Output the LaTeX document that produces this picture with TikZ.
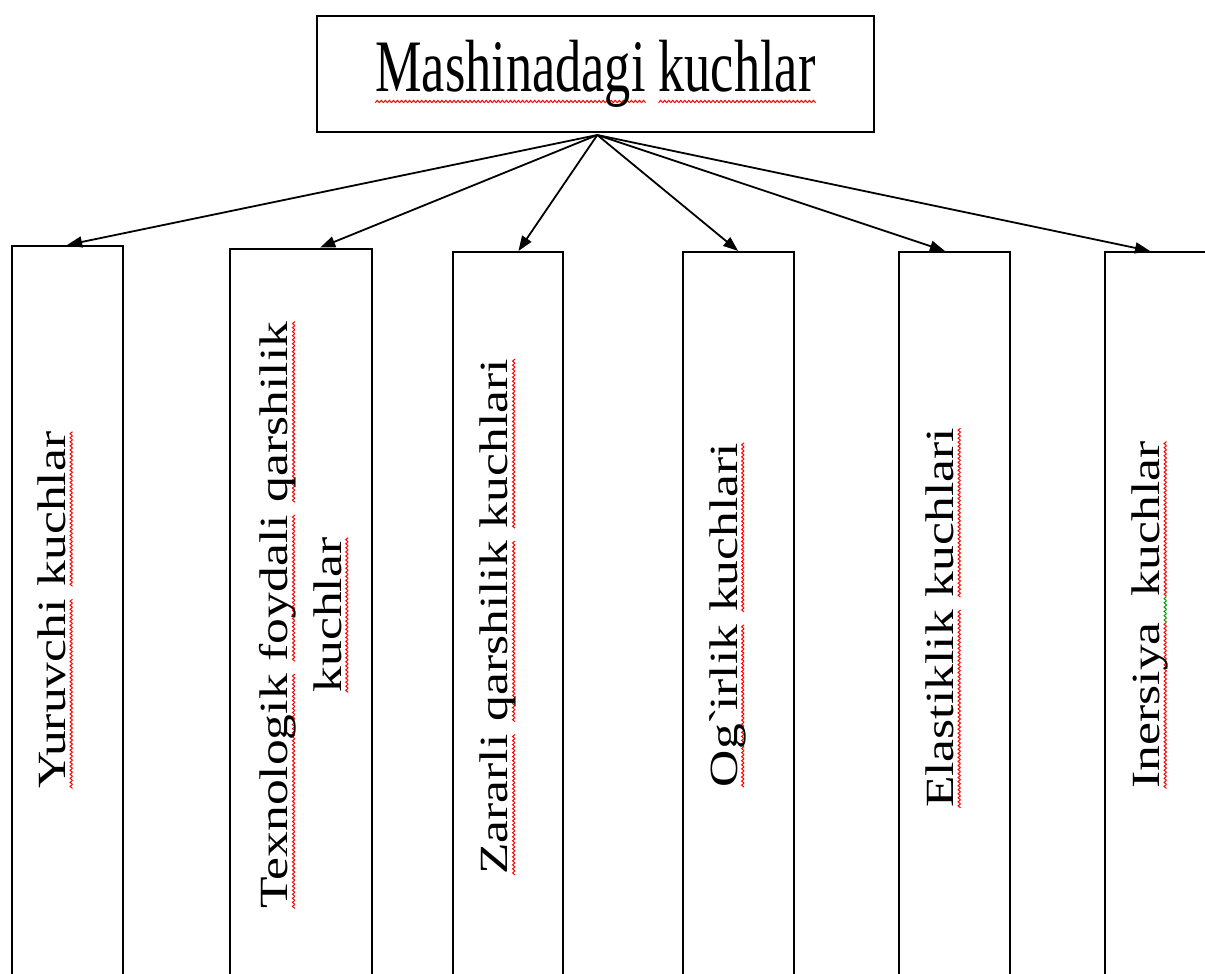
\documentclass[tikz,border=0pt]{standalone}
\usepackage{fontspec}
\usetikzlibrary{arrows.meta}
\setmainfont{Liberation Serif}
\newfontfamily\titlefont[FakeStretch=0.707]{Liberation Serif}
\newfontfamily\labelfont[FakeStretch=1.29]{Liberation Serif}
% spelling squiggles as in the scanned sheet
\newcommand\wave[1]{\tikz[baseline=0pt]{\useasboundingbox (0pt,0pt) rectangle (4pt,2.4pt);
  \draw[#1, line width=1pt] (0pt,0pt) -- (2pt,2.4pt) -- (4pt,0pt);}}
\newcommand\sq[2][7pt]{\setbox0\hbox{#2}\rlap{\lower#1\hbox to\wd0{\xleaders\hbox{\wave{red}}\hfil}}\box0}
\newcommand\gsq[2][7pt]{\setbox0\hbox{#2}\rlap{\lower#1\hbox to\wd0{\xleaders\hbox{\wave{green!60!black}}\hfil}}\box0}
\newcommand\gravemark{{\XeTeXglyph\XeTeXcharglyph"60\relax}}
\tikzset{
  head/.style={draw, line width=2pt, inner sep=0pt, minimum width=557.3pt,
    minimum height=116.6pt, font=\titlefont\fontsize{74}{80}\selectfont},
  col/.style={draw, line width=2pt, inner sep=0pt},
  lab/.style={rotate=90, anchor=north, inner sep=0pt, align=center,
    font=\labelfont\fontsize{40}{53.3}\selectfont}
}
\begin{document}
\begin{tikzpicture}[x=1pt, y=-1pt]
      \useasboundingbox (0,0) rectangle (1205,974);
      \draw
        (595.4,74) node[head] (kuch){\sq[11pt]{Mashinadagi}\ \sq[11pt]{kuchlar}}
        (67.1,615.5) node[col, minimum width=110.8pt, minimum height=739pt] (yur){}
        (301.2,616.8) node[col, minimum width=142.3pt, minimum height=736.5pt] (tex){}
        (507.9,618.5) node[col, minimum width=110.8pt, minimum height=733pt] (zar){}
        (738.2,618.5) node[col, minimum width=111.1pt, minimum height=733pt] (ogi){}
        (954.4,618.5) node[col, minimum width=110.8pt, minimum height=733pt] (ela){}
        (1160.5,618.5) node[col, minimum width=111pt, minimum height=733pt] (ine){};
      \node[lab] (yurt) at (37.5,610) {\sq{Yuruvchi}\ \sq{kuchlar}};
      \node[lab] (text) at (259.5,615) {\sq{Texnologik}\ \sq{foydali}\ \sq{qarshilik}\\ \sq{kuchlar}};
      \node[lab] (zart) at (480,617) {\sq{Zararli}\ \sq{qarshilik}\ \sq{kuchlari}};
      \node[lab] (ogit) at (709,615) {\sq{Og\gravemark irlik}\ \sq{kuchlari}};
      \node[lab] (elat) at (925.5,618) {\sq{Elastiklik}\ \sq{kuchlari}};
      \node[lab] (inet) at (1131.5,615) {\sq{Inersiya}\gsq{\hbox to 26pt{\hfil}}\sq{kuchlar}};
      \coordinate (src) at (597.3,135);
      \begin{scope}[-{Triangle[length=15pt,width=11pt]}, line width=1.8pt]
        \draw (src) to (yur.north);
        \draw (src) to ([xshift=19pt]tex.north);
        \draw (src) to ([xshift=10.5pt]zar.north);
        \draw (src) to (ogi.north);
        \draw (src) to ([xshift=-9.5pt]ela.north);
        \draw (src) to ([xshift=-10.5pt]ine.north);
      \end{scope}
    \end{tikzpicture}
\end{document}
